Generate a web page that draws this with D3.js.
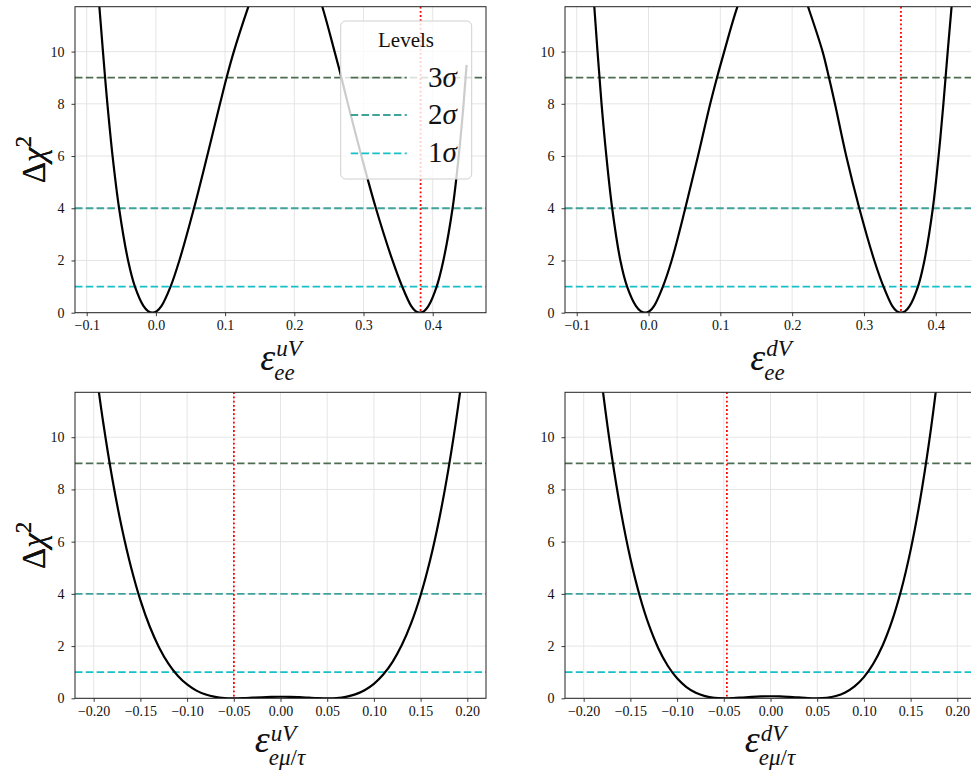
<!DOCTYPE html>
<html><head><meta charset="utf-8">
<script src="https://cdn.jsdelivr.net/npm/d3@7"></script>
<style>body{margin:0;background:#fff} svg{display:block} text{font-family:"Liberation Serif","Times New Roman",serif;fill:#111}</style>
</head><body><svg id="c" width="971" height="774"></svg>
<script>
// ---------------- data ----------------
const sigmaLevels = [9, 4, 1];
const sigmaDigits = ["3", "2", "1"];
const sigmaColors = ["#4c6d50", "#3fa39a", "#17bfc8"];
const yTicks = [0, 2, 4, 6, 8, 10];
const eeTicks = [-0.1, 0.0, 0.1, 0.2, 0.3, 0.4];
const emtTicks = [-0.20, -0.15, -0.10, -0.05, 0.00, 0.05, 0.10, 0.15, 0.20];

// eps_ee^uV
const uVee_x    = [-0.0902, -0.0817, -0.0765, -0.0734, -0.0701, -0.0626, -0.0532, -0.0402, -0.0303, -0.0178, -0.0114, -0.005, 0.0014, 0.0079, 0.0212, 0.0339, 0.055, 0.0741, 0.0926, 0.1021, 0.1126, 0.1336, 0.16, 0.188, 0.216, 0.2405, 0.2582, 0.2681, 0.2774, 0.297, 0.3179, 0.3419, 0.3559, 0.369, 0.3752, 0.3815, 0.3876, 0.3937, 0.4057, 0.4154, 0.4287, 0.4376, 0.4446, 0.4475, 0.449];
const uVee_chi2 = [15, 11.72, 10, 9, 8, 6, 4, 2, 1, 0.25, 0.0625, 0, 0.0625, 0.25, 1, 2, 4, 6, 8, 9, 10, 11.72, 13.7, 14.4, 13.7, 11.72, 10, 9, 8, 6, 4, 2, 1, 0.25, 0.0625, 0, 0.0625, 0.25, 1, 2, 4, 6, 8, 9, 9.49];
// eps_ee^dV
const dVee_x    = [-0.0832, -0.0755, -0.071, -0.0682, -0.0654, -0.0587, -0.0506, -0.0392, -0.0298, -0.0174, -0.011, -0.0046, 0.0015, 0.0076, 0.02, 0.0322, 0.0512, 0.0689, 0.0859, 0.0953, 0.1054, 0.1238, 0.15, 0.173, 0.198, 0.2221, 0.2424, 0.2513, 0.2596, 0.2753, 0.2935, 0.3144, 0.3272, 0.3395, 0.3455, 0.3515, 0.3575, 0.3635, 0.3752, 0.3842, 0.3959, 0.4039, 0.4106, 0.4136, 0.4166, 0.422, 0.4309];
const dVee_chi2 = [15, 11.72, 10, 9, 8, 6, 4, 2, 1, 0.25, 0.0625, 0, 0.0625, 0.25, 1, 2, 4, 6, 8, 9, 10, 11.72, 13.6, 14.3, 13.6, 11.72, 10, 9, 8, 6, 4, 2, 1, 0.25, 0.0625, 0, 0.0625, 0.25, 1, 2, 4, 6, 8, 9, 10, 11.72, 15];
// eps_emu/tau^uV
const uVemt_x    = [-0.20, -0.19, -0.18, -0.17, -0.16, -0.15, -0.14, -0.13, -0.12, -0.11, -0.10, -0.09, -0.08, -0.07, -0.06, -0.05, -0.04, -0.03, -0.02, -0.01, 0.00, 0.01, 0.02, 0.03, 0.04, 0.05, 0.06, 0.07, 0.08, 0.09, 0.10, 0.11, 0.12, 0.13, 0.14, 0.15, 0.16, 0.17, 0.18, 0.19, 0.20];
const uVemt_chi2 = [13.22, 10.61, 8.40, 6.55, 5.02, 3.76, 2.75, 1.95, 1.33, 0.866, 0.529, 0.295, 0.143, 0.054, 0.011, 0, 0.0076, 0.024, 0.041, 0.054, 0.059, 0.057, 0.043, 0.025, 0.008, 0, 0.012, 0.057, 0.150, 0.310, 0.555, 0.910, 1.398, 2.047, 2.886, 3.948, 5.267, 6.879, 8.824, 11.143, 13.88];
// eps_emu/tau^dV
const dVemt_x    = [-0.19, -0.18, -0.17, -0.16, -0.15, -0.14, -0.13, -0.12, -0.11, -0.10, -0.09, -0.08, -0.07, -0.06, -0.049, -0.04, -0.03, -0.02, -0.01, 0.00, 0.01, 0.02, 0.03, 0.04, 0.049, 0.06, 0.07, 0.08, 0.09, 0.10, 0.11, 0.12, 0.13, 0.14, 0.15, 0.16, 0.17, 0.18, 0.19];
const dVemt_chi2 = [15.05, 11.93, 9.30, 7.13, 5.35, 3.92, 2.79, 1.91, 1.247, 0.765, 0.430, 0.212, 0.083, 0.019, 0, 0.0085, 0.030, 0.053, 0.070, 0.078, 0.074, 0.056, 0.032, 0.009, 0, 0.020, 0.088, 0.225, 0.456, 0.811, 1.322, 2.023, 2.954, 4.157, 5.676, 7.562, 9.866, 12.65, 15.96];

const bestFit = [0.3825, 0.3515, -0.0499, -0.0467];
const xSup = ["uV", "dV", "uV", "dV"];
const xSub = ["ee", "ee", "eμ/τ", "eμ/τ"];

// ---------------- layout ----------------
const svg = d3.select("#c");
const W = 411, H = 306, yMax = 11.72;
const panels = [
  {left: 75,  top: 6.7,   xdom: [-0.1169, 0.477], ticks: eeTicks,  fmt: d3.format(".1f"), xs: uVee_x,  ys: uVee_chi2},
  {left: 565, top: 6.7,   xdom: [-0.1163, 0.456], ticks: eeTicks,  fmt: d3.format(".1f"), xs: dVee_x,  ys: dVee_chi2},
  {left: 75,  top: 392.3, xdom: [-0.22, 0.22],    ticks: emtTicks, fmt: d3.format(".2f"), xs: uVemt_x, ys: uVemt_chi2},
  {left: 565, top: 392.3, xdom: [-0.22, 0.22],    ticks: emtTicks, fmt: d3.format(".2f"), xs: dVemt_x, ys: dVemt_chi2}
];
const dash = "7.5,3.3";

panels.forEach((p, i) => {
  const g = svg.append("g").attr("transform", `translate(${p.left},${p.top})`);
  const x = d3.scaleLinear().domain(p.xdom).range([0, W]);
  const y = d3.scaleLinear().domain([0, yMax]).range([H, 0]);
  const cid = "clip" + i;
  g.append("clipPath").attr("id", cid).append("rect").attr("width", W).attr("height", H);

  // grid
  g.append("g").selectAll("line").data(p.ticks).join("line")
    .attr("x1", d => x(d)).attr("x2", d => x(d)).attr("y1", 0).attr("y2", H)
    .attr("stroke", "#e2e2e2").attr("stroke-width", 0.9);
  g.append("g").selectAll("line").data(yTicks).join("line")
    .attr("y1", d => y(d)).attr("y2", d => y(d)).attr("x1", 0).attr("x2", W)
    .attr("stroke", "#e2e2e2").attr("stroke-width", 0.9);

  const inner = g.append("g").attr("clip-path", `url(#${cid})`);
  // sigma levels
  inner.selectAll("line.lv").data(sigmaLevels).join("line").attr("class", "lv")
    .attr("x1", 0).attr("x2", W).attr("y1", d => y(d)).attr("y2", d => y(d))
    .attr("stroke", (d, k) => sigmaColors[k]).attr("stroke-width", 1.8)
    .attr("stroke-dasharray", dash);
  // curve
  const pts = p.xs.map((v, k) => [v, p.ys[k]]);
  inner.append("path").datum(pts)
    .attr("d", d3.line().x(d => x(d[0])).y(d => y(d[1])).curve(d3.curveCatmullRom.alpha(0.5)))
    .attr("fill", "none").attr("stroke", "#000").attr("stroke-width", 2.2);
  // best fit
  inner.append("line").attr("x1", x(bestFit[i])).attr("x2", x(bestFit[i]))
    .attr("y1", 0).attr("y2", H).attr("stroke", "red").attr("stroke-width", 1.8)
    .attr("stroke-dasharray", "1.8,2.4");

  // axes
  const ax = g.append("g").attr("transform", `translate(0,${H})`)
    .call(d3.axisBottom(x).tickValues(p.ticks).tickFormat(p.fmt).tickSize(3.5).tickPadding(4));
  const ay = g.append("g")
    .call(d3.axisLeft(y).tickValues(yTicks).tickFormat(d3.format("d")).tickSize(3.5).tickPadding(7));
  [ax, ay].forEach(a => {
    a.select(".domain").remove();
    a.selectAll("text").attr("font-family", "Liberation Serif").attr("font-size", 14).attr("fill", "#222");
    a.selectAll("line").attr("stroke", "#222").attr("stroke-width", 0.9);
  });
  g.append("rect").attr("width", W).attr("height", H).attr("fill", "none")
    .attr("stroke", "#222").attr("stroke-width", 1);

  // y label
  const yl = svg.append("text")
    .attr("transform", `translate(45,${p.top + H / 2}) rotate(-90)`)
    .attr("text-anchor", "middle").attr("font-size", 33);
  yl.append("tspan").text("Δ");
  yl.append("tspan").attr("font-style", "italic").text("χ");
  yl.append("tspan").attr("font-size", 23).attr("dy", -14).text("2");

  // x label: one text element, epsilon with stacked super/subscript
  const top = i < 2;
  const baseEps = p.top + H + (top ? 57 : 54);
  const supUp = top ? 14 : 11, subDown = top ? 10 : 13;
  const fs = 23;
  const xl = svg.append("text").attr("y", baseEps).attr("font-style", "italic");
  const eps = xl.append("tspan").attr("x", 0).attr("font-size", 38).text("ε");
  const ew = eps.node().getComputedTextLength();
  const sup = xl.append("tspan").attr("font-size", fs).attr("x", ew + 1).attr("dy", -supUp).text(xSup[i]);
  const supW = sup.node().getComputedTextLength();
  let subW = 0;
  if (xSub[i] === "ee") {
    const s = xl.append("tspan").attr("font-size", fs).attr("x", ew - 1).attr("dy", supUp + subDown).text("ee");
    subW = s.node().getComputedTextLength();
  } else {
    const s1 = xl.append("tspan").attr("font-size", fs).attr("x", ew - 1).attr("dy", supUp + subDown).text("eμ");
    const s2 = xl.append("tspan").attr("font-size", fs).attr("font-style", "normal").text("/");
    const s3 = xl.append("tspan").attr("font-size", fs).text("τ");
    subW = s1.node().getComputedTextLength() + s2.node().getComputedTextLength() + s3.node().getComputedTextLength();
  }
  const tw = ew + Math.max(supW, subW);
  xl.attr("transform", `translate(${p.left + W / 2 - tw / 2},0)`);

  // legend in first panel
  if (i === 0) {
    const lg = svg.append("g");
    lg.append("rect").attr("x", 340.7).attr("y", 21).attr("width", 131).attr("height", 158)
      .attr("rx", 5).attr("fill", "#fff").attr("fill-opacity", 0.8)
      .attr("stroke", "#d0d0d0").attr("stroke-width", 1);
    lg.append("text").attr("x", 406).attr("y", 47).attr("text-anchor", "middle")
      .attr("font-size", 21).text("Levels");
    const ly = [77.7, 115, 153.3];
    sigmaLevels.forEach((lv, k) => {
      lg.append("line").attr("x1", 350.7).attr("x2", 406.7).attr("y1", ly[k]).attr("y2", ly[k])
        .attr("stroke", sigmaColors[k]).attr("stroke-width", 1.8).attr("stroke-dasharray", dash);
      const t = lg.append("text").attr("x", 428).attr("y", ly[k] + 9).attr("font-size", 29);
      t.append("tspan").text(sigmaDigits[k]);
      t.append("tspan").attr("font-style", "italic").text("σ");
    });
  }
});
</script></body></html>
